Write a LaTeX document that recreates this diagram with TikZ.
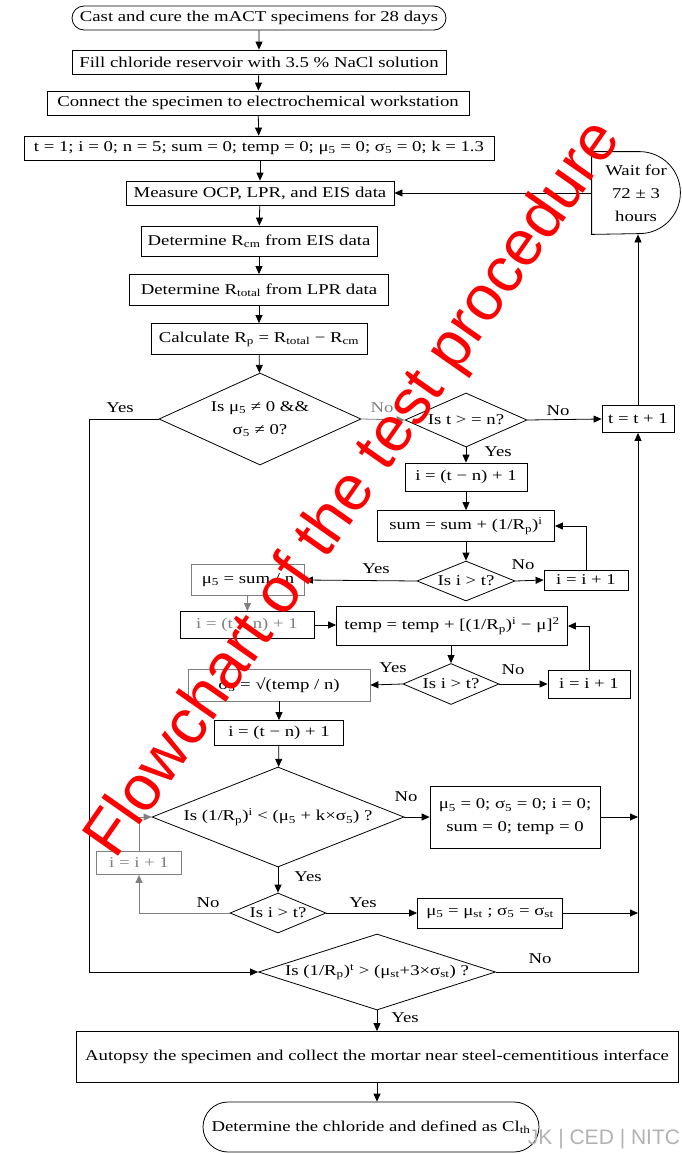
\documentclass[tikz,border=0pt]{standalone}
\usepackage{fontspec}
\setmainfont{Liberation Serif}[FakeStretch=1.25]
\setsansfont{Liberation Sans}
\usetikzlibrary{shapes, arrows.meta, positioning}
\tikzstyle{block} = [rectangle, draw, inner sep=0pt, align=center]
\tikzstyle{term} = [rounded rectangle, draw, inner sep=0pt]
\tikzstyle{decision} = [diamond, draw, inner sep=0pt, align=center]
\tikzstyle{lbl} = [inner sep=0pt]
\tikzstyle{line} = [draw]
\tikzstyle{arrow} = [draw, -{Triangle[length=8pt, width=7pt]}]
\tikzstyle{faded} = [gray]

\begin{document}
\begin{tikzpicture}[x=1pt, y=-1pt, line width=0.8pt, font=\fontsize{15}{23}\selectfont]
	\useasboundingbox (0,0) rectangle (681,1154);
	% main column
	\node [term, minimum width=374pt, minimum height=24pt] (cast) at (259,18) {Cast and cure the mACT specimens for 28 days};
	\node [block, minimum width=374pt, minimum height=24pt] (fill) at (259,62) {Fill chloride reservoir with 3.5 \%  NaCl solution};
	\node [block, minimum width=422pt, minimum height=24pt] (connect) at (258,103) {Connect the specimen to electrochemical workstation};
	\node [block, minimum width=470pt, minimum height=24pt] (init) at (259,148) {t = 1; i = 0; n = 5; sum = 0; temp = 0; μ\textsubscript{5} = 0; σ\textsubscript{5} = 0; k = 1.3};
	\node [block, minimum width=268pt, minimum height=24pt] (measure) at (260,193) {Measure OCP, LPR, and EIS data};
	\node [block, minimum width=236pt, minimum height=30pt] (rcm) at (259,241) {Determine R\textsubscript{cm} from EIS data};
	\node [block, minimum width=259pt, minimum height=31pt] (rtotal) at (259,290) {Determine R\textsubscript{total} from LPR data};
	\node [block, minimum width=216pt, minimum height=31pt] (rp) at (259,339) {Calculate R\textsubscript{p} = R\textsubscript{total} −  R\textsubscript{cm}};
	\node [decision, aspect=2.2, minimum width=202pt, minimum height=92pt] (d1) at (260,419) {Is μ\textsubscript{5} ≠  0  \&\&\\σ\textsubscript{5} ≠  0?};
	\node [decision, aspect=2.26, minimum width=122pt, minimum height=54pt] (d2) at (466,420) {Is t > = n?};
	\node [block, minimum width=72pt, minimum height=27pt] (tinc) at (638,419) {t = t + 1};
	\node [inner sep=0pt, minimum width=88pt, minimum height=82pt, align=center] (wait) at (636,193) {Wait for\\72 ± 3\\hours};
	\path [line] (wait.south west) -- (wait.north west) -- ([xshift=-41pt]wait.north east) arc[start angle=90, end angle=-90, radius=41pt] -- cycle;
	% mean loop
	\node [block, minimum width=122pt, minimum height=28pt] (ia) at (466,477) {i =  (t − n) + 1};
	\node [block, minimum width=177pt, minimum height=31pt] (sum) at (466,526) {sum = sum + (1/R\textsubscript{p})\textsuperscript{i}};
	\node [decision, aspect=2.45, minimum width=98pt, minimum height=40pt] (d3) at (466,581) {Is i > t?};
	\node [block, minimum width=84pt, minimum height=20pt] (inca) at (586,580) {i =  i + 1};
	\node [block, draw=gray, minimum width=113pt, minimum height=31pt] (mu) at (248,580) {μ\textsubscript{5} = sum / n};
	% deviation loop
	\node [block, minimum width=134pt, minimum height=27pt, text=gray] (ib) at (247,625) {i =  (t − n) + 1};
	\node [block, minimum width=231pt, minimum height=39pt] (temp) at (452,626) {temp = temp + [(1/R\textsubscript{p})\textsuperscript{i} − μ]\textsuperscript{2}};
	\node [decision, aspect=2.34, minimum width=96pt, minimum height=41pt] (d4) at (451,684) {Is i > t?};
	\node [block, minimum width=82pt, minimum height=28pt] (incb) at (589,684) {i =  i + 1};
	\node [block, draw=gray, minimum width=182pt, minimum height=32pt] (sigma) at (279,685) {σ\textsubscript{5} =  √(temp / n)};
	% check loop
	\node [block, minimum width=129pt, minimum height=25pt] (ic) at (279,733) {i =  (t − n) + 1};
	\node [decision, aspect=2.52, minimum width=252pt, minimum height=100pt] (d5) at (278,817) {Is (1/R\textsubscript{p})\textsuperscript{i} < (μ\textsubscript{5} + k×σ\textsubscript{5}) ?};
	\node [block, minimum width=170pt, minimum height=62pt] (zero) at (515,817) {μ\textsubscript{5} = 0; σ\textsubscript{5} = 0; i = 0;\\sum = 0; temp = 0};
	\node [block, draw=gray, text=gray, minimum width=85pt, minimum height=23pt] (incc) at (139,863) {i =  i + 1};
	\node [decision, aspect=2.4, minimum width=96pt, minimum height=40pt] (d6) at (278,913) {Is i > t?};
	\node [block, minimum width=145pt, minimum height=30pt] (st) at (490,913) {μ\textsubscript{5} = μ\textsubscript{st} ; σ\textsubscript{5} = σ\textsubscript{st}};
	\node [decision, aspect=3.1, minimum width=237pt, minimum height=76pt] (d7) at (377,972) {Is (1/R\textsubscript{p})\textsuperscript{t} > (μ\textsubscript{st}+3×σ\textsubscript{st}) ?};
	\node [block, minimum width=602pt, minimum height=51pt] (autopsy) at (377,1057) {Autopsy the specimen and collect the mortar near steel-cementitious interface};
	\node [term, minimum width=336pt, minimum height=50pt] (final) at (371,1127) {Determine the chloride and defined as Cl\textsubscript{th}};

	\coordinate (yesturn) at (89,419);
	\coordinate (zeroend) at (638,817);
	\coordinate (stend) at (638,913);

	\path [arrow] (cast) -- (fill);
	\path [arrow] (fill) -- (connect);
	\path [arrow] (connect) -- (init);
	\path [arrow] (init.south -| measure) -- (measure);
	\path [arrow] (measure) -- (rcm);
	\path [arrow] (rcm) -- (rtotal);
	\path [arrow] (rtotal) -- (rp);
	\path [arrow] (rp) -- (d1);
	\path [arrow] (d1.west) -- (yesturn) |- (d7.west);
	\path [arrow, faded] (d1.east) -- (d2.west);
	\path [arrow] (d2.east) -- (tinc.west);
	\path [arrow] (tinc.north) -- (tinc.north |- wait.south);
	\path [arrow] (wait.west) -- (measure.east);
	\path [arrow] (d2) -- (ia);
	\path [arrow] (ia) -- (sum);
	\path [arrow] (sum) -- (d3);
	\path [arrow] (d3.east) -- (inca.west);
	\path [arrow] (inca.north) |- (sum.east);
	\path [arrow] (d3.west) -- (mu.east);
	\path [arrow, faded] (mu) -- (ib);
	\path [arrow] (ib.east) -- (ib.east -| temp.west);
	\path [arrow] (temp.south -| d4) -- (d4);
	\path [arrow] (d4.east) -- (incb.west);
	\path [arrow] (incb.north) |- (temp.east);
	\path [arrow] (d4.west) -- (sigma.east);
	\path [arrow] (sigma) -- (ic);
	\path [arrow] (ic) -- (d5);
	\path [arrow] (d5.east) -- (zero.west);
	\path [arrow] (zero.east) -- (zeroend);
	\path [arrow, faded] (incc.north) |- (d5.west);
	\path [arrow] (d5) -- (d6);
	\path [arrow, faded] (d6.west) -| (incc.south);
	\path [arrow] (d6.east) -- (st.west);
	\path [arrow] (st.east) -- (stend);
	\path [arrow] (d7.east) -| (tinc.south);
	\path [arrow] (d7) -- (d7 |- autopsy.north);
	\path [arrow] (autopsy.south) -- (autopsy.south |- final.north);

	% branch labels
	\node [lbl] (yesa) at (120,408) {Yes};
	\node [lbl, faded] (noa) at (382,408) {No};
	\node [lbl] (nob) at (558,411) {No};
	\node [lbl] (yesb) at (498,452) {Yes};
	\node [lbl] (yesc) at (376,569) {Yes};
	\node [lbl] (noc) at (523,565) {No};
	\node [lbl] (yesd) at (393,668) {Yes};
	\node [lbl] (nod) at (513,670) {No};
	\node [lbl] (noe) at (406,797) {No};
	\node [lbl] (yese) at (308,877) {Yes};
	\node [lbl] (nof) at (208,903) {No};
	\node [lbl] (yesf) at (363,903) {Yes};
	\node [lbl] (nog) at (540,959) {No};
	\node [lbl] (yesg) at (405,1018) {Yes};

	% overlay texts
	\node [red, rotate=55, inner sep=0pt, font=\sffamily\fontsize{64}{64}\selectfont] (mark) at (355,490) {Flowchart of the test procedure};
	\node [gray!60, inner sep=0pt, font=\sffamily\fontsize{21}{21}\selectfont] (credit) at (604,1139) {JK | CED | NITC};
\end{tikzpicture}
\end{document}
